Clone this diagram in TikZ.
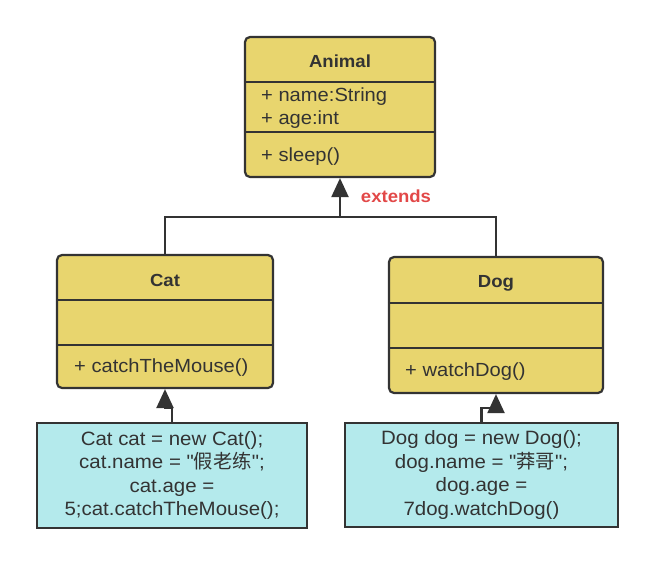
\documentclass[tikz,border=0pt]{standalone}
\usepackage{fontspec}
\setmainfont{Liberation Sans}[FakeStretch=1.06]
\newfontfamily\plainfont{Liberation Sans}[FakeStretch=1.06]
\newfontfamily\cjk{Noto Sans CJK SC}
\usetikzlibrary{arrows.meta}
\newcommand\dquote{{\plainfont\symbol{34}}}
\definecolor{umlyellow}{RGB}{232,213,110}
\definecolor{codecyan}{RGB}{180,234,236}
\definecolor{edgegray}{RGB}{51,51,51}
\definecolor{extred}{RGB}{226,72,72}
\begin{document}
\begin{tikzpicture}[x=1pt,y=-1pt,
  cls/.style={draw=edgegray,fill=umlyellow,line width=2.2pt,rounded corners=5pt,inner sep=0pt},
  codebox/.style={draw=edgegray,fill=codecyan,line width=2pt,inner sep=0pt,align=center,
    text=edgegray,font=\fontsize{19.3}{23.5}\selectfont},
  divider/.style={draw=edgegray,line width=2pt},
  title/.style={font=\fontsize{17.5}{20}\selectfont\bfseries,text=edgegray},
  member/.style={font=\fontsize{19}{20}\selectfont,text=edgegray,anchor=west,inner sep=0pt},
  conn/.style={draw=edgegray,line width=2.2pt,-{Triangle[length=19pt,width=17pt]}},
  lbl/.style={font=\fontsize{17.5}{20}\selectfont\bfseries,text=extred}
]
\useasboundingbox (0,0) rectangle (659,565);

% Animal
\node[cls,minimum width=190pt,minimum height=140pt] (animal) at (340,107) {};
\draw[divider] (animal.west |- 0,82) -- (animal.east |- 0,82);
\draw[divider] (animal.west |- 0,132) -- (animal.east |- 0,132);
\node[title] (animaltitle) at (340,61) {Animal};
\node[member] (aname) at (261,97) {+ name:String};
\node[member] (aage) at (261,120) {+ age:int};
\node[member] (asleep) at (261,157) {+ sleep()};

% Cat
\node[cls,minimum width=216pt,minimum height=133pt] (cat) at (165,321.5) {};
\draw[divider] (cat.west |- 0,300) -- (cat.east |- 0,300);
\draw[divider] (cat.west |- 0,345) -- (cat.east |- 0,345);
\node[title] (cattitle) at (165,280) {Cat};
\node[member] (catm) at (74,368) {+ catchTheMouse()};

% Dog
\node[cls,minimum width=214pt,minimum height=136pt] (dog) at (496,325) {};
\draw[divider] (dog.west |- 0,303) -- (dog.east |- 0,303);
\draw[divider] (dog.west |- 0,348) -- (dog.east |- 0,348);
\node[title] (dogtitle) at (496,283) {Dog};
\node[member] (dogm) at (405,372) {+ watchDog()};

% code boxes
\node[codebox,minimum width=270pt,minimum height=105pt] (catcode) at (172,475.5)
  {Cat cat = new Cat();\\cat.name = \dquote{\cjk 假老练}\dquote;\\cat.age =\\5;cat.catchTheMouse();};
\node[codebox,minimum width=273pt,minimum height=104pt] (dogcode) at (481.5,475)
  {Dog dog = new Dog();\\dog.name = \dquote{\cjk 莽哥}\dquote;\\dog.age =\\7dog.watchDog()};

% inheritance
\coordinate (join) at (340,217);
\draw[draw=edgegray,line width=2.2pt] (cat.north) |- (join);
\draw[draw=edgegray,line width=2.2pt] (dog.north) |- (join);
\draw[conn] (join) -- (animal.south);
\node[lbl] (ext) at (396,196) {extends};

% instances
\draw[conn] (catcode.north) -- ++(0,-14) -| (cat.south);
\draw[conn] (dogcode.north) -- ++(0,-14) -| (dog.south);
\end{tikzpicture}
\end{document}
